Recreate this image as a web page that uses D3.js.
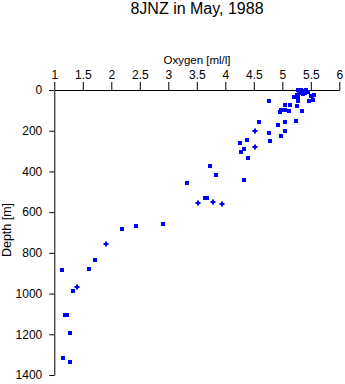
<!DOCTYPE html>
<html>
<head>
<meta charset="utf-8">
<script src="https://cdn.jsdelivr.net/npm/d3@7"></script>
<style>
  html, body { margin: 0; padding: 0; background: #fff; }
  svg { display: block; font-family: "Liberation Sans", Arial, Helvetica, sans-serif; }
</style>
</head>
<body>
<svg id="chart" width="345" height="384"></svg>
<script>
// ---- data ----
const title = "8JNZ in May, 1988";
const xLabel = "Oxygen [ml/l]";
const yLabel = "Depth [m]";
const xTicks = [1, 1.5, 2, 2.5, 3, 3.5, 4, 4.5, 5, 5.5, 6];
const yTicks = [0, 200, 400, 600, 800, 1000, 1200, 1400];

// square markers: [oxygen, depth]
const squareOxygen = [5.28,5.32,5.37,5.42,5.45,5.30,5.36,5.40,5.26,5.21,5.28,5.52,5.55,5.50,
  4.77,5.28,5.47,5.54,5.05,5.14,5.26,4.98,5.05,4.96,5.12,5.35,
  5.24,4.59,5.04,4.93,4.77,5.04,4.98,
  4.38,4.25,4.78,4.32,4.28,4.39,
  3.74,3.84,3.32,4.33,3.64,3.68,
  2.91,2.44,2.18,1.72,1.60,1.14,
  1.32,1.19,1.23,1.28,1.16,1.28];
const squareDepth = [2,0,5,2,10,14,20,16,24,33,34,30,26,30,
  52,52,52,50,75,75,78,100,100,110,104,102,
  150,159,158,173,213,203,228,
  247,260,252,291,306,336,
  375,419,455,444,532,532,
  658,668,684,836,880,885,
  989,1106,1106,1195,1318,1337];

// cross markers
const crossOxygen = [4.52, 4.52, 3.52, 3.78, 3.94, 1.90, 1.39];
const crossDepth  = [203, 281, 557, 552, 561, 756, 969];

// ---- drawing ----
const svg = d3.select("#chart");
const x = d3.scaleLinear().domain([1, 6]).range([54.3, 339.3]);
const y = d3.scaleLinear().domain([0, 1400]).range([90, 375]);

svg.append("text")
  .attr("x", 197).attr("y", 13.5)
  .attr("text-anchor", "middle")
  .attr("font-size", 16)
  .text(title);

svg.append("text")
  .attr("x", 197).attr("y", 64)
  .attr("text-anchor", "middle")
  .attr("font-size", 11.5)
  .text(xLabel);

svg.append("text")
  .attr("transform", "translate(11,230) rotate(-90)")
  .attr("text-anchor", "middle")
  .attr("font-size", 12.5)
  .text(yLabel);

const xAxis = d3.axisTop(x)
  .tickValues(xTicks)
  .tickFormat(d => String(d))
  .tickSize(8).tickSizeOuter(0).tickPadding(3);
const gx = svg.append("g").attr("transform", `translate(0,${y(0)})`).call(xAxis);

const yAxis = d3.axisLeft(y)
  .tickValues(yTicks)
  .tickFormat(d => String(d))
  .tickSize(5).tickSizeOuter(0).tickPadding(7);
const gy = svg.append("g").attr("transform", `translate(${x(1)},0)`).call(yAxis);

[gx, gy].forEach(g => {
  g.selectAll("text").attr("font-size", 12).attr("font-family", "Liberation Sans, Arial, sans-serif").attr("fill", "#000");
  g.selectAll("line, path").attr("stroke", "#000");
});

const squares = squareOxygen.map((o, i) => ({ o, d: squareDepth[i] }));
const crosses = crossOxygen.map((o, i) => ({ o, d: crossDepth[i] }));

svg.append("g").selectAll("rect")
  .data(squares).join("rect")
  .attr("x", d => Math.round(x(d.o)) - 2)
  .attr("y", d => Math.round(y(d.d)) - 2)
  .attr("width", 4).attr("height", 4)
  .attr("fill", "#0000ff");

const cg = svg.append("g").selectAll("g").data(crosses).join("g")
  .attr("transform", d => `translate(${Math.round(x(d.o))},${Math.round(y(d.d))})`);
cg.append("rect").attr("x", -2.5).attr("y", -1).attr("width", 5).attr("height", 2).attr("fill", "#0000ff");
cg.append("rect").attr("x", -1).attr("y", -2.5).attr("width", 2).attr("height", 5).attr("fill", "#0000ff");
</script>
</body>
</html>
